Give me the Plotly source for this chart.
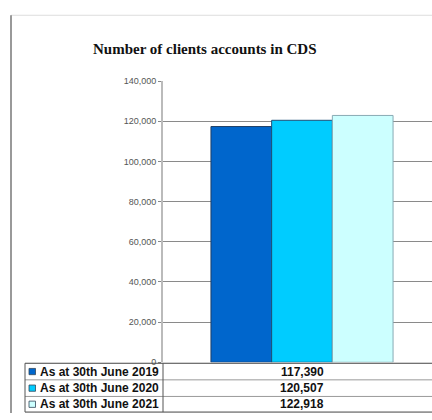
import plotly.graph_objects as go

# Data
series_names = ["As at 30th June 2019", "As at 30th June 2020", "As at 30th June 2021"]
series_values = [117390, 120507, 122918]
series_colors = ["#0066CC", "#00CCFF", "#CCFFFF"]
edge_colors = ["#1f3f66", "#1f4f77", "#88aab4"]
y_ticks = [0, 20000, 40000, 60000, 80000, 100000, 120000, 140000]
title_text = "Number of clients accounts in CDS"

W, H = 432, 420


def px(x):
    return x / W


def py(y):
    return 1 - y / H


fig = go.Figure()
for name, val, col, edge in zip(series_names, series_values, series_colors, edge_colors):
    fig.add_trace(go.Bar(
        x=["CDS"], y=[val], name=name,
        marker=dict(color=col, line=dict(color=edge, width=1)),
        hoverinfo="skip",
    ))

# plot area: left edge at 163px, category centre at ~302px
plot_left, plot_right_full = 163, 441
x_hi = -0.5 + (W - plot_left) / (plot_right_full - plot_left)

shapes = []
annotations = []

# outer chart frame
shapes.append(dict(type="line", xref="paper", yref="paper",
                   x0=px(11), x1=px(432), y0=py(10.5), y1=py(10.5),
                   line=dict(color="#dddddd", width=1)))
shapes.append(dict(type="line", xref="paper", yref="paper",
                   x0=px(11), x1=px(11), y0=py(10.5), y1=py(418),
                   line=dict(color="#777777", width=1.5)))

# data table beneath the plot
row_edges = [367, 384, 401, 417]
for i, yy in enumerate(row_edges):
    dark = i in (0, 3)
    shapes.append(dict(type="line", xref="paper", yref="paper",
                       x0=px(25), x1=px(432), y0=py(yy), y1=py(yy),
                       line=dict(color="#444444" if dark else "#999999", width=1)))
for xx in (25, 163):
    shapes.append(dict(type="line", xref="paper", yref="paper",
                       x0=px(xx), x1=px(xx), y0=py(367), y1=py(417),
                       line=dict(color="#555555", width=1)))

for i, (name, val, col) in enumerate(zip(series_names, series_values, series_colors)):
    yc = (row_edges[i] + row_edges[i + 1]) / 2
    # legend key
    shapes.append(dict(type="rect", xref="paper", yref="paper",
                       x0=px(29), x1=px(35.5), y0=py(yc - 3.2), y1=py(yc + 3.2),
                       fillcolor=col, line=dict(color="#33475b", width=0.8)))
    annotations.append(dict(xref="paper", yref="paper", x=px(38), y=py(yc),
                            xanchor="left", yanchor="middle", showarrow=False,
                            text=f"<b>{name}</b>",
                            font=dict(family="Liberation Sans, Arial", size=12, color="#111111")))
    annotations.append(dict(xref="paper", yref="paper", x=px(302), y=py(yc),
                            xanchor="center", yanchor="middle", showarrow=False,
                            text=f"<b>{val:,}</b>",
                            font=dict(family="Liberation Sans, Arial", size=12, color="#111111")))

# title
annotations.append(dict(xref="paper", yref="paper", x=px(204), y=py(45),
                        xanchor="center", yanchor="middle", showarrow=False,
                        text=f"<b>{title_text}</b>",
                        font=dict(family="Liberation Serif, Times New Roman", size=15, color="#111111")))

fig.update_layout(
    width=W, height=H,
    margin=dict(l=0, r=0, t=0, b=0),
    paper_bgcolor="white", plot_bgcolor="white",
    showlegend=False,
    barmode="group", bargap=0.345, bargroupgap=0,
    xaxis=dict(domain=[px(plot_left), 1], range=[-0.5, x_hi],
               showticklabels=False, showgrid=False, zeroline=False, ticks=""),
    yaxis=dict(domain=[py(366), py(78)], range=[0, 140000],
               tickvals=y_ticks, tickformat=",",
               ticks="outside", ticklen=3, tickcolor="#888888",
               tickfont=dict(family="Liberation Sans, Arial", size=9, color="#555555"),
               showgrid=True, gridcolor="#8a8a8a", gridwidth=1,
               showline=True, linecolor="#bbbbbb", linewidth=2,
               zeroline=False),
    shapes=shapes,
    annotations=annotations,
)

fig.write_html("out.html", config={"displayModeBar": False})
